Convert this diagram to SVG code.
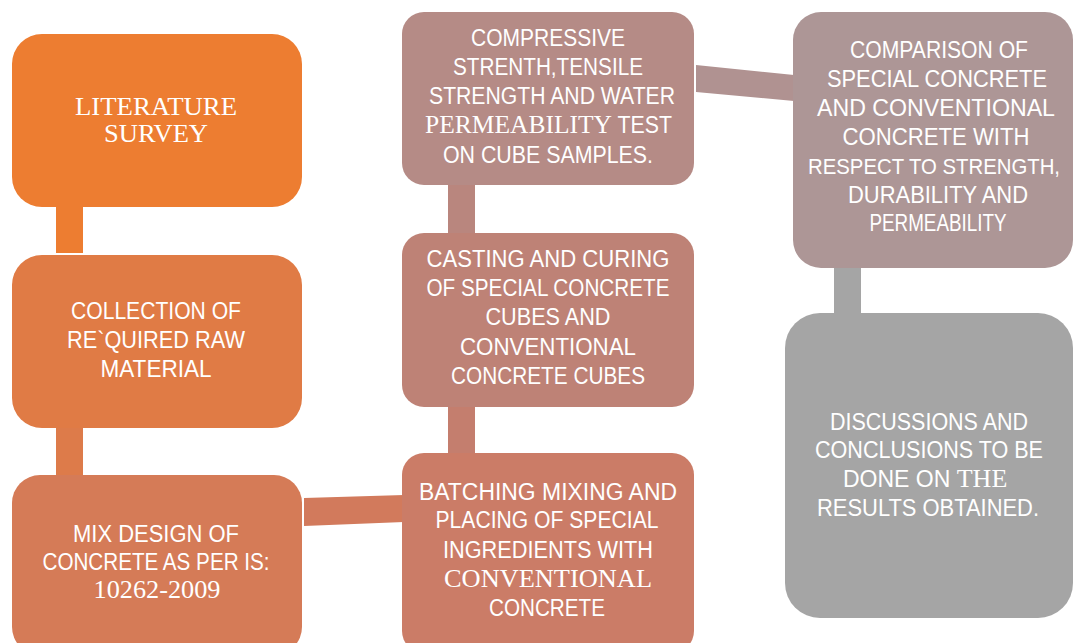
<svg xmlns="http://www.w3.org/2000/svg" width="1073" height="643" viewBox="0 0 1073 643">
<style>
.s{font-family:"Liberation Sans",Arial,sans-serif;font-size:23px;fill:#fff;}
.r{font-family:"Liberation Serif","Times New Roman",serif;font-size:26px;fill:#fff;}
</style>
<rect width="1073" height="643" fill="#fff"/>
<g id="connectors">
<rect x="56" y="205" width="27" height="48" fill="#ED7D31"/>
<rect x="56" y="426" width="27" height="50" fill="#DD7B4A"/>
<polygon points="304,498 404,495 404,522 304,526" fill="#D27A5C"/>
<rect x="448" y="405" width="27" height="50" fill="#C47E6E"/>
<rect x="448" y="184" width="27" height="51" fill="#B9867E"/>
<polygon points="696,65 794,75 794,101 696,92" fill="#B09291"/>
<rect x="834" y="266" width="27" height="48" fill="#A5A5A5"/>
</g>
<g id="n1">
<rect x="12" y="34" width="290" height="173" rx="30" fill="#ED7D31"/>
<text class="r" x="156" y="115" text-anchor="middle" textLength="162" lengthAdjust="spacingAndGlyphs">LITERATURE</text>
<text class="r" x="156" y="142" text-anchor="middle" textLength="104" lengthAdjust="spacingAndGlyphs">SURVEY</text>
</g>
<g id="n2">
<rect x="12" y="255" width="290" height="173" rx="30" fill="#E07B45"/>
<text class="s" x="156" y="319" text-anchor="middle" textLength="170" lengthAdjust="spacingAndGlyphs">COLLECTION OF</text>
<text class="s" x="156" y="348" text-anchor="middle" textLength="178" lengthAdjust="spacingAndGlyphs">RE`QUIRED RAW</text>
<text class="s" x="156" y="377" text-anchor="middle" textLength="111" lengthAdjust="spacingAndGlyphs">MATERIAL</text>
</g>
<g id="n3">
<rect x="12" y="475" width="290" height="180" rx="28" fill="#D57B57"/>
<text class="s" x="156" y="542" text-anchor="middle" textLength="166" lengthAdjust="spacingAndGlyphs">MIX DESIGN OF</text>
<text class="s" x="156" y="570" text-anchor="middle" textLength="227" lengthAdjust="spacingAndGlyphs">CONCRETE AS PER IS:</text>
<text class="r" x="157" y="598" text-anchor="middle" textLength="127" lengthAdjust="spacingAndGlyphs">10262-2009</text>
</g>
<g id="n4">
<rect x="402" y="453" width="292" height="200" rx="22" fill="#CB7C67"/>
<text class="s" x="548" y="500" text-anchor="middle" textLength="258" lengthAdjust="spacingAndGlyphs">BATCHING MIXING AND</text>
<text class="s" x="547" y="528" text-anchor="middle" textLength="223" lengthAdjust="spacingAndGlyphs">PLACING OF SPECIAL</text>
<text class="s" x="548" y="558" text-anchor="middle" textLength="210" lengthAdjust="spacingAndGlyphs">INGREDIENTS WITH</text>
<text class="r" x="548" y="587" text-anchor="middle" textLength="208" lengthAdjust="spacingAndGlyphs">CONVENTIONAL</text>
<text class="s" x="547" y="616" text-anchor="middle" textLength="116" lengthAdjust="spacingAndGlyphs">CONCRETE</text>
</g>
<g id="n5">
<rect x="402" y="233" width="292" height="174" rx="22" fill="#BE8276"/>
<text class="s" x="548" y="267" text-anchor="middle" textLength="243" lengthAdjust="spacingAndGlyphs">CASTING AND CURING</text>
<text class="s" x="548" y="296" text-anchor="middle" textLength="243" lengthAdjust="spacingAndGlyphs">OF SPECIAL CONCRETE</text>
<text class="s" x="548" y="325" text-anchor="middle" textLength="125" lengthAdjust="spacingAndGlyphs">CUBES AND</text>
<text class="s" x="548" y="355" text-anchor="middle" textLength="176" lengthAdjust="spacingAndGlyphs">CONVENTIONAL</text>
<text class="s" x="548" y="384" text-anchor="middle" textLength="194" lengthAdjust="spacingAndGlyphs">CONCRETE CUBES</text>
</g>
<g id="n6">
<rect x="402" y="12" width="292" height="173" rx="22" fill="#B58B86"/>
<text class="s" x="548" y="46" text-anchor="middle" textLength="154" lengthAdjust="spacingAndGlyphs">COMPRESSIVE</text>
<text class="s" x="548" y="75" text-anchor="middle" textLength="190" lengthAdjust="spacingAndGlyphs">STRENTH,TENSILE</text>
<text class="s" x="552" y="104" text-anchor="middle" textLength="246" lengthAdjust="spacingAndGlyphs">STRENGTH AND WATER</text>
<text x="425" y="133"><tspan class="r" textLength="187" lengthAdjust="spacingAndGlyphs">PERMEABILITY</tspan><tspan class="s" textLength="60" lengthAdjust="spacingAndGlyphs"> TEST</tspan></text>
<text class="s" x="548" y="163" text-anchor="middle" textLength="210" lengthAdjust="spacingAndGlyphs">ON CUBE SAMPLES.</text>
</g>
<g id="n7">
<rect x="793" y="12" width="280" height="256" rx="28" fill="#AD9696"/>
<text class="s" x="939" y="58" text-anchor="middle" textLength="178" lengthAdjust="spacingAndGlyphs">COMPARISON OF</text>
<text class="s" x="937" y="87" text-anchor="middle" textLength="220" lengthAdjust="spacingAndGlyphs">SPECIAL CONCRETE</text>
<text class="s" x="936" y="116" text-anchor="middle" textLength="238" lengthAdjust="spacingAndGlyphs">AND CONVENTIONAL</text>
<text class="s" x="936" y="145" text-anchor="middle" textLength="187" lengthAdjust="spacingAndGlyphs">CONCRETE WITH</text>
<text class="s" x="934" y="174" text-anchor="middle" style="font-size:21.5px" textLength="252" lengthAdjust="spacingAndGlyphs">RESPECT TO STRENGTH,</text>
<text class="s" x="938" y="203" text-anchor="middle" textLength="180" lengthAdjust="spacingAndGlyphs">DURABILITY AND</text>
<text class="s" x="938" y="231" text-anchor="middle" textLength="137" lengthAdjust="spacingAndGlyphs">PERMEABILITY</text>
</g>
<g id="n8">
<rect x="785" y="313" width="288" height="305" rx="35" fill="#A5A5A5"/>
<text class="s" x="929" y="430" text-anchor="middle" textLength="198" lengthAdjust="spacingAndGlyphs">DISCUSSIONS AND</text>
<text class="s" x="929" y="458" text-anchor="middle" textLength="228" lengthAdjust="spacingAndGlyphs">CONCLUSIONS TO BE</text>
<text x="843" y="487"><tspan class="s">DONE ON </tspan><tspan class="r">THE</tspan></text>
<text class="s" x="928" y="516" text-anchor="middle" textLength="222" lengthAdjust="spacingAndGlyphs">RESULTS OBTAINED.</text>
</g>
</svg>
